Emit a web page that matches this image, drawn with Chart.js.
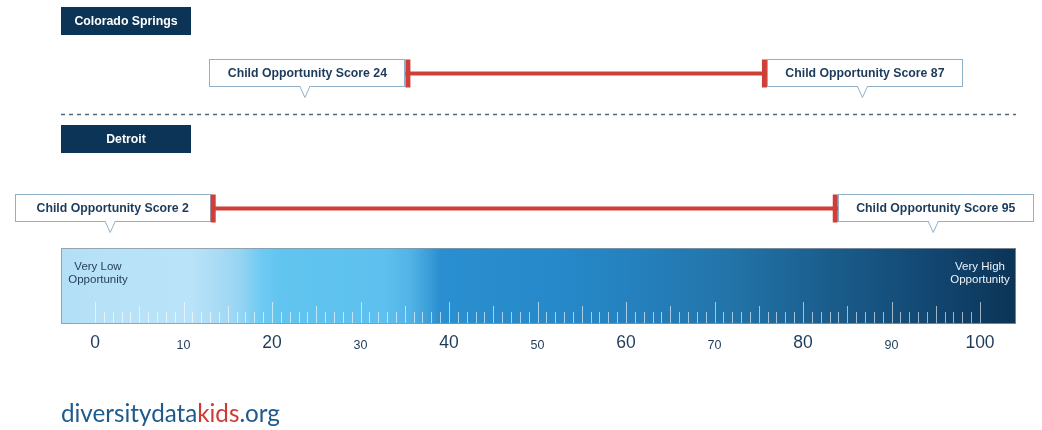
<!DOCTYPE html>
<html>
<head>
<meta charset="utf-8">
<script src="https://cdn.jsdelivr.net/npm/chart.js@4"></script>
<style>
  html, body { margin: 0; padding: 0; background: #ffffff; }
  #wrap { position: relative; width: 1042px; height: 430px; }
</style>
</head>
<body>
<div id="wrap"><canvas id="c"></canvas></div>
<script>
// ---------- data ----------
const cities = ['Colorado Springs', 'Detroit'];
const lowScores = [24, 2];
const highScores = [87, 95];
const tickLabels = ['0', '10', '20', '30', '40', '50', '60', '70', '80', '90', '100'];
const scaleEndLabels = [['Very Low', 'Opportunity'], ['Very High', 'Opportunity']];
const calloutPrefix = 'Child Opportunity Score ';
const logoParts = [['diversitydata', '#1f5a8c'], ['kids', '#cc3a35'], ['.org', '#1f5a8c']];

// ---------- styles ----------
const NAVY = '#0c3457';
const TEXT_NAVY = '#1c3a5a';
const RED = '#cf3f38';
const BOX_BORDER = '#8fb1c9';
const FONT = '"Liberation Sans", Arial, sans-serif';

const datasets = cities.map((c, i) => ({
  label: c,
  data: [{ x: lowScores[i], y: i + 1 }, { x: highScores[i], y: i + 1 }],
  showLine: true,
  borderColor: RED,
  backgroundColor: RED,
  borderWidth: 4,
  pointRadius: 0,
  borderCapStyle: 'butt'
}));

const decor = {
  id: 'decor',
  beforeDatasetsDraw(chart) {
    const { ctx, chartArea, scales: { x } } = chart;
    // gradient opportunity bar
    const left = x.getPixelForValue(0) - 34;
    const right = x.getPixelForValue(100) + 36;
    const bottom = chartArea.bottom;
    const top = bottom - 76;
    const g = ctx.createLinearGradient(left, 0, right, 0);
    const stops = [
      [0, '#b3dff6'], [0.036, '#b6e1f7'], [0.135, '#b9e3f8'], [0.161, '#acdcf5'],
      [0.187, '#96d5f4'], [0.21, '#6ecaf2'], [0.229, '#61c5f0'], [0.339, '#5dc0ee'],
      [0.365, '#52b4e7'], [0.384, '#3d9fd9'], [0.397, '#2a8fd0'], [0.522, '#2689c9'],
      [0.606, '#2580bd'], [0.70, '#2274a9'], [0.805, '#1a5d8c'], [0.91, '#124772'], [1, '#0b3456']
    ];
    stops.forEach(s => g.addColorStop(s[0], s[1]));
    ctx.save();
    ctx.fillStyle = g;
    ctx.fillRect(left, top, right - left, bottom - top);
    ctx.strokeStyle = 'rgba(140,150,160,0.8)';
    ctx.lineWidth = 1;
    ctx.strokeRect(left + 0.5, top + 0.5, right - left - 1, bottom - top - 1);
    // ruler ticks
    ctx.strokeStyle = 'rgba(255,255,255,0.6)';
    for (let v = 0; v <= 100; v++) {
      const px = Math.round(x.getPixelForValue(v)) + 0.5;
      const len = v % 10 === 0 ? 21 : (v % 5 === 0 ? 17 : 11);
      ctx.beginPath();
      ctx.moveTo(px, bottom - 1);
      ctx.lineTo(px, bottom - 1 - len);
      ctx.stroke();
    }
    // end labels
    ctx.font = '11.5px ' + FONT;
    ctx.textAlign = 'center';
    ctx.textBaseline = 'middle';
    ctx.fillStyle = '#263f5a';
    const lx = x.getPixelForValue(0) + 3;
    scaleEndLabels[0].forEach((t, k) => ctx.fillText(t, lx, top + 19 + k * 13));
    ctx.fillStyle = '#eef4f8';
    const rx = x.getPixelForValue(100);
    scaleEndLabels[1].forEach((t, k) => ctx.fillText(t, rx, top + 19 + k * 13));
    ctx.restore();
  },
  afterDatasetsDraw(chart) {
    const { ctx, scales: { x, y } } = chart;
    const labelTops = [7, 125];
    const BOX_W = 196, BOX_H = 28, CAP = 5;
    ctx.save();
    // dashed separator
    ctx.strokeStyle = '#52687a';
    ctx.lineWidth = 1.5;
    ctx.setLineDash([4, 4]);
    ctx.beginPath();
    ctx.moveTo(61, 114.5);
    ctx.lineTo(1016, 114.5);
    ctx.stroke();
    ctx.setLineDash([]);

    cities.forEach((city, i) => {
      // city label box
      ctx.fillStyle = NAVY;
      ctx.fillRect(61, labelTops[i], 130, 28);
      ctx.fillStyle = '#ffffff';
      ctx.font = 'bold 12.3px ' + FONT;
      ctx.textAlign = 'center';
      ctx.textBaseline = 'middle';
      ctx.fillText(city, 126, labelTops[i] + 14.5);

      const cy = y.getPixelForValue(i + 1);
      [[lowScores[i], 1], [highScores[i], -1]].forEach(([v, side]) => {
        const cx = x.getPixelForValue(v);
        const bl = cx - BOX_W / 2, bt = cy - BOX_H / 2;
        ctx.fillStyle = '#ffffff';
        ctx.fillRect(bl, bt, BOX_W, BOX_H);
        ctx.strokeStyle = BOX_BORDER;
        ctx.lineWidth = 1;
        ctx.strokeRect(Math.round(bl) + 0.5, Math.round(bt) + 0.5, BOX_W - 1, BOX_H - 1);
        // pointer
        const px = cx - 2.5;
        const pb = Math.round(bt) + BOX_H - 0.5;
        ctx.fillStyle = '#ffffff';
        ctx.fillRect(px - 4.5, pb - 1, 9, 2);
        ctx.beginPath();
        ctx.moveTo(px - 5, pb);
        ctx.lineTo(px, pb + 11);
        ctx.lineTo(px + 5, pb);
        ctx.stroke();
        // red cap
        ctx.fillStyle = RED;
        const capX = side > 0 ? bl + BOX_W : bl - CAP;
        ctx.fillRect(capX, bt, CAP, BOX_H);
        // text
        ctx.fillStyle = TEXT_NAVY;
        ctx.font = 'bold 12.3px ' + FONT;
        ctx.textAlign = 'center';
        ctx.textBaseline = 'middle';
        ctx.fillText(calloutPrefix + v, cx, cy + 0.5);
      });
    });

    // logo
    const full = logoParts.map(p => p[0]).join('');
    ctx.font = '20px Lato, "Open Sans", sans-serif';
    const w = ctx.measureText(full).width;
    const size = 20 * 219 / w;
    ctx.font = size.toFixed(2) + 'px Lato, "Open Sans", sans-serif';
    ctx.textAlign = 'left';
    ctx.textBaseline = 'alphabetic';
    let lx = 61;
    logoParts.forEach(([t, col]) => {
      ctx.fillStyle = col;
      ctx.fillText(t, lx, 422);
      lx += ctx.measureText(t).width;
    });
    ctx.restore();
  }
};

new Chart(document.getElementById('c'), {
  type: 'scatter',
  data: { datasets },
  options: {
    responsive: true,
    maintainAspectRatio: false,
    animation: false,
    events: [],
    layout: { padding: { left: 95, right: 62, top: 0, bottom: 66 } },
    plugins: { legend: { display: false }, tooltip: { enabled: false } },
    scales: {
      x: {
        type: 'linear',
        min: 0,
        max: 100,
        grid: { display: false, drawTicks: false },
        border: { display: false },
        afterFit(scale) { scale.height = 40; },
        ticks: {
          stepSize: 10,
          autoSkip: false,
          maxRotation: 0,
          padding: 9,
          color: '#1e3b5a',
          callback: (v, i) => tickLabels[i],
          font: (ctx) => (ctx.index % 2 === 0
            ? { size: 17.5, family: FONT, lineHeight: 1.2 }
            : { size: 12.5, family: FONT, lineHeight: 1.957 })
        }
      },
      y: {
        type: 'linear',
        reverse: true,
        min: 0.4556,
        max: 2.8556,
        display: false
      }
    }
  },
  plugins: [decor]
});
</script>
</body>
</html>
